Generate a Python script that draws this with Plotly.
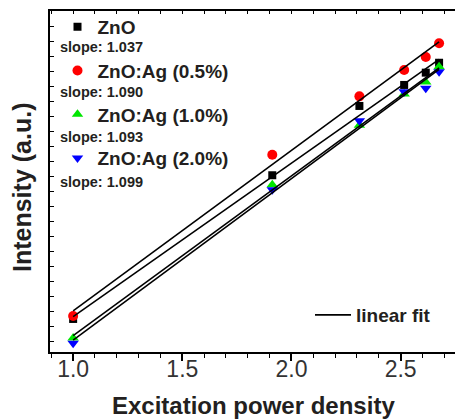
import numpy as np
import plotly.graph_objects as go

# Data (x: excitation power density, y: intensity in arbitrary units)
x_vals = [1.0, 1.912, 2.311, 2.516, 2.615, 2.676]
zno = [1.47, 11.05, 15.67, 17.07, 17.89, 18.55]
zno_ag05 = [1.67, 12.42, 16.31, 18.07, 18.93, 19.85]
zno_ag10 = [0.20, 10.42, 14.38, 16.47, 17.27, 18.29]
zno_ag20 = [-0.15, 10.09, 14.69, 16.62, 16.85, 17.95]

series_names = ["ZnO", "ZnO:Ag (0.5%)", "ZnO:Ag (1.0%)", "ZnO:Ag (2.0%)"]
slope_labels = ["slope: 1.037", "slope: 1.090", "slope: 1.093", "slope: 1.099"]
x_ticks = [1.0, 1.5, 2.0, 2.5]
x_tick_text = ["1.0", "1.5", "2.0", "2.5"]

series_values = [zno, zno_ag05, zno_ag10, zno_ag20]
colors = ["#000000", "#ff0000", "#00e600", "#0000ff"]
symbols = ["square", "circle", "triangle-up", "triangle-down"]
sizes = [8, 10, 10, 10]

FONT = "Liberation Sans, Arial, sans-serif"
TXT = "#231f20"

fig = go.Figure()

# markers
for name, ys, c, s, sz in zip(series_names, series_values, colors, symbols, sizes):
    fig.add_trace(go.Scatter(
        x=x_vals, y=ys, mode="markers", name=name, legendgroup=name,
        marker=dict(color=c, symbol=s, size=sz, line=dict(width=0))))

# fit lines (drawn on top of markers)
x_arr = np.array(x_vals)
for i, ys in enumerate(series_values):
    k, b = np.polyfit(x_arr, np.array(ys), 1)
    xf = np.array([x_arr.min(), x_arr.max()])
    fig.add_trace(go.Scatter(
        x=xf, y=k * xf + b, mode="lines",
        line=dict(color="black", width=1.6),
        name="linear fit", legend="legend2", showlegend=(i == 0),
        hoverinfo="skip"))

W, H = 455, 420
L, R, T, B = 50, 0, 11, 68
pw, ph = W - L - R, H - T - B

def px_to_paper_x(px):
    return (px - L) / pw

def px_to_paper_y(py):
    return (H - B - py) / ph

annotations = []
for lbl, yc in zip(slope_labels, [47.3, 92.3, 137.3, 182.3]):
    annotations.append(dict(
        text=lbl, xref="paper", yref="paper",
        x=px_to_paper_x(58), y=px_to_paper_y(yc),
        xanchor="left", yanchor="middle", showarrow=False,
        font=dict(family=FONT, size=14.5, color=TXT, weight="bold")))

annotations.append(dict(
    text="Excitation power density", xref="paper", yref="paper",
    x=px_to_paper_x(253.5), y=px_to_paper_y(405), xanchor="center", yanchor="middle",
    showarrow=False, font=dict(family=FONT, size=24, color=TXT, weight="bold")))
annotations.append(dict(
    text="Intensity (a.u.)", xref="paper", yref="paper", textangle=-90,
    x=px_to_paper_x(22), y=px_to_paper_y(188), xanchor="center", yanchor="middle",
    showarrow=False, font=dict(family=FONT, size=25, color=TXT, weight="bold")))

xr = [0.894, 1.0 + (455 - 72.7) / 218.6]

fig.update_layout(
    width=W, height=H,
    margin=dict(l=L, r=R, t=T, b=B, pad=0),
    paper_bgcolor="white", plot_bgcolor="white",
    font=dict(family=FONT, color=TXT),
    xaxis=dict(
        range=xr, tickvals=x_ticks, ticktext=x_tick_text,
        ticks="outside", ticklen=7, tickwidth=1.6, tickcolor="black",
        ticklabelstandoff=-12,
        showline=True, linecolor="black", linewidth=2, showgrid=False, zeroline=False,
        tickfont=dict(family=FONT, size=23, color="#333333"),
        minor=dict(dtick=0.1, tick0=0, ticks="outside", ticklen=4, tickwidth=1.4,
                   tickcolor="black", showgrid=False)),
    xaxis2=dict(
        range=xr, overlaying="x", side="top", showticklabels=False,
        ticks="inside", ticklen=3, tickwidth=1.2, tickcolor="black", dtick=0.1, tick0=0,
        showline=True, linecolor="black", linewidth=2, showgrid=False, zeroline=False),
    yaxis=dict(
        range=[-11 / 15, 22], dtick=1, tick0=0, showticklabels=False,
        ticks="inside", ticklen=4, tickwidth=1.4, tickcolor="black",
        showline=True, linecolor="black", linewidth=2, showgrid=False, zeroline=False),
    legend=dict(
        x=px_to_paper_x(57.5), y=1.0 + 3 / ph, xanchor="left", yanchor="top",
        bgcolor="rgba(0,0,0,0)", borderwidth=0, traceorder="grouped",
        tracegroupgap=16, itemsizing="trace",
        font=dict(family=FONT, size=19, color=TXT, weight="bold")),
    legend2=dict(
        x=px_to_paper_x(310), y=px_to_paper_y(296), xanchor="left", yanchor="top",
        bgcolor="rgba(0,0,0,0)", borderwidth=0, itemwidth=36,
        font=dict(family=FONT, size=19, color=TXT, weight="bold")),
    annotations=annotations,
    showlegend=True,
)

# invisible trace so the top axis is rendered
fig.add_trace(go.Scatter(x=[xr[0]], y=[0], xaxis="x2", mode="markers",
                         marker=dict(opacity=0), showlegend=False, hoverinfo="skip"))

fig.write_html("out.html")
